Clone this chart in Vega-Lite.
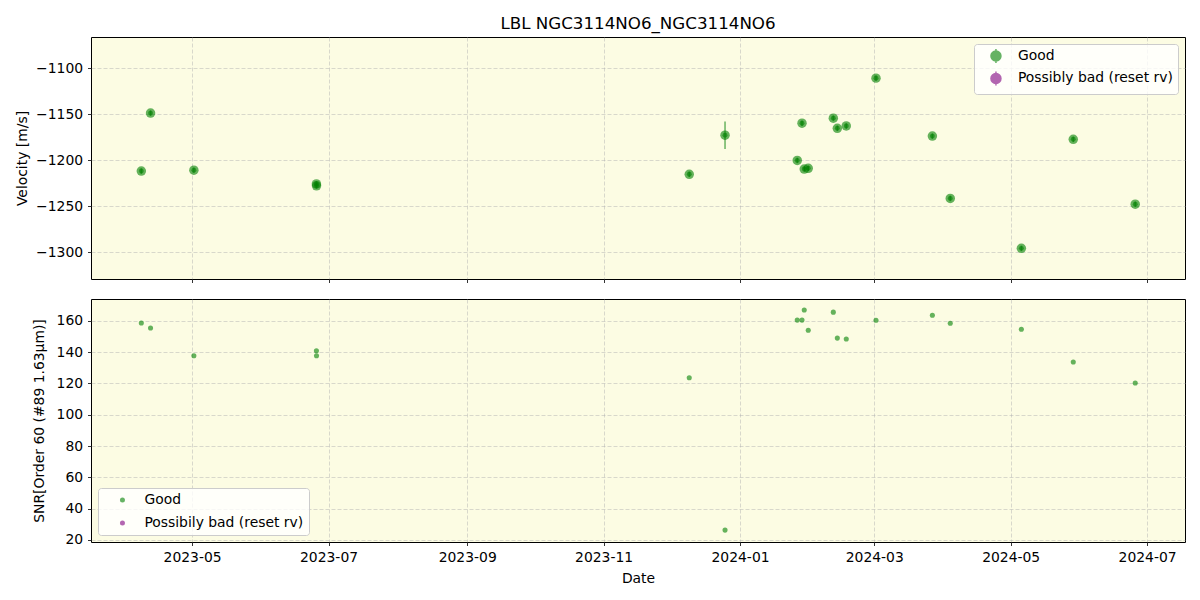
{
  "$schema": "https://vega.github.io/schema/vega-lite/v6.json",
  "background": "white",
  "padding": {"left": 15, "top": 15, "right": 15, "bottom": 15},
  "spacing": 20,
  "bounds": "flush",
  "datasets": {
    "rv": [
      {"date": "2023-04-08T07:00:00", "v": -1212, "err": 3, "status": "Good"},
      {"date": "2023-04-12T10:00:00", "v": -1149, "err": 3, "status": "Good"},
      {"date": "2023-05-01T19:00:00", "v": -1211, "err": 3, "status": "Good"},
      {"date": "2023-06-25T14:00:00", "v": -1226, "err": 3, "status": "Good"},
      {"date": "2023-06-25T15:00:00", "v": -1228, "err": 3, "status": "Good"},
      {"date": "2023-12-09T07:00:00", "v": -1215.5, "err": 3, "status": "Good"},
      {"date": "2023-12-25T07:00:00", "v": -1173, "err": 15, "status": "Good"},
      {"date": "2024-01-26T14:00:00", "v": -1200.4, "err": 3, "status": "Good"},
      {"date": "2024-01-28T17:00:00", "v": -1160, "err": 3, "status": "Good"},
      {"date": "2024-01-29T17:00:00", "v": -1209.8, "err": 3, "status": "Good"},
      {"date": "2024-01-31T12:00:00", "v": -1209, "err": 3, "status": "Good"},
      {"date": "2024-02-11T17:00:00", "v": -1154.5, "err": 3, "status": "Good"},
      {"date": "2024-02-13T12:00:00", "v": -1165.5, "err": 3, "status": "Good"},
      {"date": "2024-02-17T12:00:00", "v": -1163, "err": 3, "status": "Good"},
      {"date": "2024-03-01T19:00:00", "v": -1111, "err": 3, "status": "Good"},
      {"date": "2024-03-27T00:00:00", "v": -1174, "err": 3, "status": "Good"},
      {"date": "2024-04-04T00:00:00", "v": -1241.7, "err": 3, "status": "Good"},
      {"date": "2024-05-05T19:00:00", "v": -1296, "err": 3, "status": "Good"},
      {"date": "2024-05-29T00:00:00", "v": -1177.5, "err": 3, "status": "Good"},
      {"date": "2024-06-25T17:00:00", "v": -1248, "err": 3, "status": "Good"}
    ],
    "snr": [
      {"date": "2023-04-08T07:00:00", "snr": 158.7, "status": "Good"},
      {"date": "2023-04-12T10:00:00", "snr": 155.5, "status": "Good"},
      {"date": "2023-05-01T19:00:00", "snr": 137.7, "status": "Good"},
      {"date": "2023-06-25T14:00:00", "snr": 140.9, "status": "Good"},
      {"date": "2023-06-25T15:00:00", "snr": 137.7, "status": "Good"},
      {"date": "2023-12-09T07:00:00", "snr": 123.7, "status": "Good"},
      {"date": "2023-12-25T07:00:00", "snr": 26.3, "status": "Good"},
      {"date": "2024-01-26T14:00:00", "snr": 160.5, "status": "Good"},
      {"date": "2024-01-28T17:00:00", "snr": 160.5, "status": "Good"},
      {"date": "2024-01-29T17:00:00", "snr": 167, "status": "Good"},
      {"date": "2024-01-31T12:00:00", "snr": 154, "status": "Good"},
      {"date": "2024-02-11T17:00:00", "snr": 165.6, "status": "Good"},
      {"date": "2024-02-13T12:00:00", "snr": 149, "status": "Good"},
      {"date": "2024-02-17T12:00:00", "snr": 148.4, "status": "Good"},
      {"date": "2024-03-01T19:00:00", "snr": 160.4, "status": "Good"},
      {"date": "2024-03-27T00:00:00", "snr": 163.6, "status": "Good"},
      {"date": "2024-04-04T00:00:00", "snr": 158.5, "status": "Good"},
      {"date": "2024-05-05T19:00:00", "snr": 154.7, "status": "Good"},
      {"date": "2024-05-29T00:00:00", "snr": 133.7, "status": "Good"},
      {"date": "2024-06-25T17:00:00", "snr": 120.3, "status": "Good"}
    ]
  },
  "config": {
    "font": "DejaVu Sans",
    "view": {"stroke": "black", "strokeWidth": 1, "fill": "#fcfce3"},
    "axis": {
      "domain": false,
      "tickColor": "black",
      "tickSize": 3.5,
      "tickWidth": 0.8,
      "labelFontSize": 13.9,
      "labelColor": "black",
      "labelFont": "DejaVu Sans",
      "titleFont": "DejaVu Sans",
      "titleFontSize": 13.9,
      "titleFontWeight": "normal",
      "titleColor": "black",
      "labelPadding": 4.9,
      "gridColor": "#b0b0b0",
      "gridOpacity": 0.6,
      "gridDash": [4, 2],
      "gridWidth": 0.8,
      "labelFlush": false,
      "labelOverlap": false
    },
    "legend": {
      "labelFontSize": 13.9,
      "labelFont": "DejaVu Sans",
      "labelColor": "black",
      "fillColor": "rgba(255,255,255,0.8)",
      "strokeColor": "#cccccc",
      "cornerRadius": 3,
      "padding": 5,
      "offset": 7,
      "rowPadding": 8,
      "symbolOffset": 10,
      "labelOffset": 15
    }
  },
  "vconcat": [
    {
      "width": 1094,
      "height": 242,
      "title": {"text": "LBL NGC3114NO6_NGC3114NO6", "fontSize": 16.7, "fontWeight": "normal", "font": "DejaVu Sans", "anchor": "middle", "frame": "group", "offset": 4.5, "color": "black"},
      "data": {"name": "rv"},
      "encoding": {
        "x": {
          "field": "date", "type": "temporal",
          "scale": {"domain": [{"year": 2023, "month": 3, "date": 16, "hours": 19}, {"year": 2024, "month": 7, "date": 17, "hours": 23}]},
          "axis": {
            "title": null, "labels": false, "grid": true, "format": "%Y-%m",
            "values": [{"year": 2023, "month": 5, "date": 1}, {"year": 2023, "month": 7, "date": 1}, {"year": 2023, "month": 9, "date": 1}, {"year": 2023, "month": 11, "date": 1}, {"year": 2024, "month": 1, "date": 1}, {"year": 2024, "month": 3, "date": 1}, {"year": 2024, "month": 5, "date": 1}, {"year": 2024, "month": 7, "date": 1}]
          }
        },
        "y": {
          "field": "v", "type": "quantitative",
          "scale": {"domain": [-1329.3, -1066.3], "nice": false, "zero": false},
          "axis": {"title": "Velocity [m/s]", "values": [-1300, -1250, -1200, -1150, -1100], "format": "d", "titlePadding": 6, "grid": true}
        }
      },
      "layer": [
        {
          "mark": {"type": "errorbar", "color": "#008000", "opacity": 0.55, "thickness": 1.6},
          "encoding": {"yError": {"field": "err"}}
        },
        {
          "mark": {"type": "circle", "size": 90, "opacity": 0.6, "strokeWidth": 0},
          "encoding": {
            "color": {
              "field": "status", "type": "nominal",
              "scale": {"domain": ["Good", "Possibly bad (reset rv)"], "range": ["#008000", "#800080"]},
              "legend": {"title": null, "orient": "top-right", "symbolSize": 100, "symbolType": "M0,-1.4L0,1.4M-1,0A1,1,0,1,1,1,0A1,1,0,1,1,-1,0Z", "symbolStrokeWidth": 1.5, "symbolOpacity": 0.6, "rowPadding": 1.5}
            },
            "stroke": {
              "field": "status", "type": "nominal",
              "scale": {"domain": ["Good", "Possibly bad (reset rv)"], "range": ["#008000", "#800080"]},
              "legend": {"title": null, "orient": "top-right", "symbolSize": 100, "symbolType": "M0,-1.4L0,1.4M-1,0A1,1,0,1,1,1,0A1,1,0,1,1,-1,0Z", "symbolStrokeWidth": 1.5, "symbolOpacity": 0.6, "rowPadding": 1.5}
            }
          }
        },
        {
          "mark": {"type": "circle", "size": 24, "opacity": 0.6, "color": "#008000"}
        }
      ]
    },
    {
      "width": 1094,
      "height": 243,
      "data": {"name": "snr"},
      "mark": {"type": "circle", "size": 26, "opacity": 0.6},
      "encoding": {
        "x": {
          "field": "date", "type": "temporal",
          "scale": {"domain": [{"year": 2023, "month": 3, "date": 16, "hours": 19}, {"year": 2024, "month": 7, "date": 17, "hours": 23}]},
          "axis": {
            "title": "Date", "grid": true, "format": "%Y-%m", "labelPadding": 5, "titlePadding": 7,
            "values": [{"year": 2023, "month": 5, "date": 1}, {"year": 2023, "month": 7, "date": 1}, {"year": 2023, "month": 9, "date": 1}, {"year": 2023, "month": 11, "date": 1}, {"year": 2024, "month": 1, "date": 1}, {"year": 2024, "month": 3, "date": 1}, {"year": 2024, "month": 5, "date": 1}, {"year": 2024, "month": 7, "date": 1}]
          }
        },
        "y": {
          "field": "snr", "type": "quantitative",
          "scale": {"domain": [18.7, 174], "nice": false, "zero": false},
          "axis": {"title": "SNR[Order 60 (#89 1.63μm)]", "values": [20, 40, 60, 80, 100, 120, 140, 160], "format": "d", "titlePadding": 10, "grid": true}
        },
        "color": {
          "field": "status", "type": "nominal",
          "scale": {"domain": ["Good", "Possibily bad (reset rv)"], "range": ["#008000", "#800080"]},
          "legend": {"title": null, "orient": "bottom-left", "symbolSize": 25, "symbolType": "circle", "symbolOpacity": 0.6, "symbolOffset": 12.5}
        }
      }
    }
  ],
  "resolve": {
    "scale": {"color": "independent", "stroke": "independent", "x": "independent", "y": "independent"},
    "legend": {"color": "independent", "stroke": "independent"}
  }
}
